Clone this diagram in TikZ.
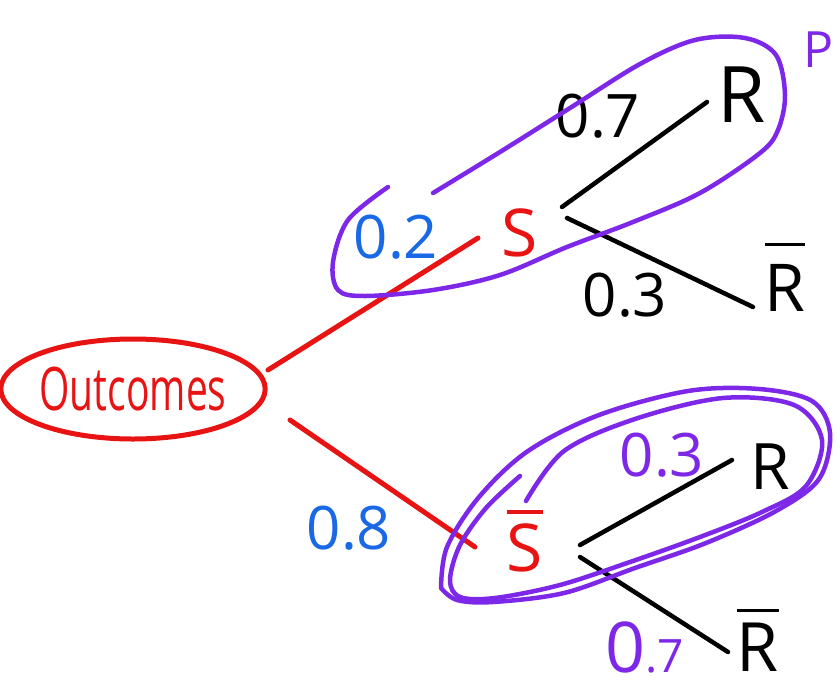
\documentclass[tikz,border=0pt]{standalone}
\usepackage{fontspec}
\usepackage{graphicx}
\setmainfont{Open Sans}
\usetikzlibrary{calc,shapes.geometric}

\definecolor{penred}{RGB}{232,20,20}
\definecolor{penblue}{RGB}{25,105,230}
\definecolor{penpurple}{RGB}{125,40,232}

% letter with a bar over it (complement of an event)
\newcommand{\cmpl}[3]{\vbox{\hrule height #1\kern #2\hbox{#3}}}

\tikzset{
  lbl/.style={inner sep=0pt, anchor=center},
  redtxt/.style={lbl, text=penred, font=\fontsize{66}{70}\selectfont},
  blacktxt/.style={lbl, text=black, font=\fontsize{#1}{#1}\selectfont},
  prob/.style={lbl, font=\fontsize{60}{64}\selectfont},
  redline/.style={penred, line width=5pt, line cap=round},
  blackline/.style={black, line width=4.5pt, line cap=round},
  loopline/.style={penpurple, line width=4.5pt, line cap=round, line join=round},
}

\begin{document}
\begin{tikzpicture}[x=1pt, y=-1pt]
\useasboundingbox (0,0) rectangle (836,697);
\clip (0,0) rectangle (836,697);

% root
\node[ellipse, draw=penred, line width=5pt, minimum width=220pt, minimum height=100pt,
      inner sep=0pt, text=penred, font=\fontsize{60}{62}\selectfont] (out) at (133,389)
      {\scalebox{0.65}[1]{Outcomes}};

% first level
\node[redtxt] (S) at (520,233) {S};
\node[redtxt] (Sb) at (525,541) {\cmpl{4pt}{9pt}{S}};

% second level
\node[blacktxt=78] (R1) at (742,95) {R};
\node[blacktxt=66] (Rb1) at (785,277) {\cmpl{3.5pt}{18pt}{R}};
\node[blacktxt=64] (R2) at (770,467) {R};
\node[blacktxt=68] (Rb2) at (758,640) {\cmpl{3.5pt}{10pt}{R}};

% branch probabilities
\node[prob, text=penblue] (p02) at (396,237) {0.2};
\node[prob, text=penblue] (p08) at (349,528) {0.8};
\node[prob, text=black] (p07a) at (598,116) {0.7};
\node[prob, text=black] (p03a) at (625,295) {0.3};
\node[prob, text=penpurple] (p03b) at (662,455) {0.3};
\node[lbl, text=penpurple] (p07b) at (645,647)
  {\fontsize{70}{70}\selectfont 0\fontsize{46}{46}\selectfont.7};

% label at the right edge
\node[lbl, anchor=west, text=penpurple, font=\fontsize{50}{50}\selectfont] (pl) at (803,50) {P};

% branches
\draw[redline] ($(out)+(135,-19)$) -- ($(S)+(-42,5)$);
\draw[redline] ($(out)+(157,31)$) -- ($(Sb)+(-50,6)$);
\draw[blackline] ($(S)+(42,-26)$) -- ($(R1)+(-35,7)$);
\draw[blackline] ($(S)+(47,-15)$) -- ($(Rb1)+(-32,30)$);
\draw[blackline] ($(Sb)+(55,4)$) -- ($(R2)+(-38,-7)$);
\draw[blackline] ($(Sb)+(55,16)$) -- ($(Rb2)+(-30,12)$);

% upper grouping loop
\draw[loopline] plot[smooth, tension=0.55] coordinates {
  (433,193) (500,152) (570,108) (640,64) (695,40) (745,38) (776,55) (785,95)
  (778,130) (760,153) (700,193) (633,222) (567,247) (500,275) (433,290)
  (365,296) (338,290) (333,262) (348,220) (388,187)};

% lower grouping loop, traced twice
\draw[loopline] plot[smooth, tension=0.55] coordinates {
  (441,588) (447,547) (479,497) (528,451) (599,415) (688,391) (759,389)
  (812,401) (830,433) (819,479) (776,511) (706,543) (635,568) (564,593)
  (493,602) (457,600) (441,588)};
\draw[loopline] plot[smooth, tension=0.55] coordinates {
  (526,501) (564,451) (635,419) (723,398) (794,405) (822,440) (806,486)
  (762,512) (700,537) (630,562) (560,585) (495,598) (460,597) (450,580)
  (460,545) (486,508) (520,476)};
\end{tikzpicture}
\end{document}
